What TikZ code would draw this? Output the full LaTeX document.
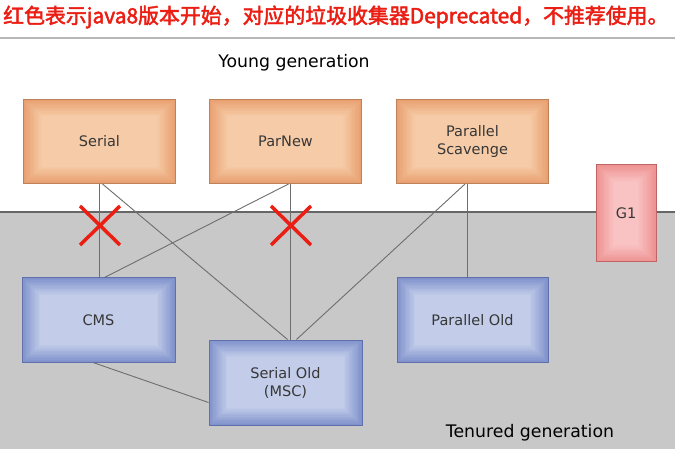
\documentclass[tikz,border=0pt]{standalone}
\usepackage{fontspec}
\setmainfont{DejaVu Sans}
\newfontfamily\cjk{Noto Sans CJK SC}[AutoFakeBold=2.2]
\usetikzlibrary{calc}
\definecolor{orE}{RGB}{232,160,112}
\definecolor{orC}{RGB}{246,204,168}
\definecolor{orB}{RGB}{190,130,90}
\definecolor{blE}{RGB}{128,146,204}
\definecolor{blC}{RGB}{196,206,234}
\definecolor{blB}{RGB}{96,112,170}
\definecolor{pkE}{RGB}{238,146,146}
\definecolor{pkC}{RGB}{250,196,196}
\definecolor{pkB}{RGB}{190,100,100}
\definecolor{bgGray}{RGB}{200,200,200}
\definecolor{txt}{RGB}{55,55,55}
\definecolor{lnk}{RGB}{110,110,110}
\definecolor{xred}{RGB}{235,30,20}
\tikzset{
  gcbox/.style n args={3}{draw=#3, line width=1pt, fill=#1, text=txt,
    font=\fontsize{14.5}{18}\selectfont, align=center, inner sep=0pt,
    path picture={
      \foreach \i in {1,...,14} {
        \fill[#2!\the\numexpr\i*7\relax!#1]
          ($(path picture bounding box.north west)+(\i*1.3pt,-\i*1.2pt)$) rectangle
          ($(path picture bounding box.south east)+(-\i*1.3pt,\i*1.2pt)$);
      }
    }},
  young/.style={gcbox={orE}{orC}{orB}, minimum width=152pt, minimum height=84pt},
  old/.style={gcbox={blE}{blC}{blB}, minimum width=153pt, minimum height=84pt},
  gone/.style={gcbox={pkE}{pkC}{pkB}, minimum width=60pt, minimum height=97pt},
  link/.style={draw=lnk, line width=0.9pt},
  cross/.style={draw=xred, line width=3.5pt},
  gen/.style={text=black, font=\fontsize{17.3}{19}\selectfont}
}
\begin{document}
\begin{tikzpicture}[x=1pt,y=-1pt]
\useasboundingbox (0,0) rectangle (675,449);
\fill[white] (0,0) rectangle (675,449);
% title
\node[anchor=west, text=xred, inner sep=0pt, font=\cjk\bfseries\fontsize{20.9}{24}\selectfont] (title) at (3,17)
  {红色表示java8版本开始，对应的垃圾收集器Deprecated，不推荐使用。};
\draw[draw=black!28, line width=1.5pt] (0,38) coordinate (tl) -- (675,38) coordinate (tr);
% tenured region
\fill[bgGray] (0,212) rectangle (675,449);
\draw[draw=black!60, line width=1.5pt] (0,212) coordinate (gl) -- (675,212) coordinate (gr);
\node[gen] (yg) at (294,63) {Young generation};
\node[gen] (tg) at (530,433) {Tenured generation};
% collectors
\node[young] (serial) at (99.5,141.5) {Serial};
\node[young] (parnew) at (285.5,141.5) {ParNew};
\node[young] (parsc) at (472.5,141.5) {Parallel\\Scavenge};
\node[gone] (g1) at (626,213.5) {G1};
\node[old] (cms) at (98.5,320) {CMS};
\node[old, minimum height=85pt] (serold) at (285.5,382.5) {Serial Old\\(MSC)};
\node[old, minimum width=151pt] (parold) at (472.5,320) {Parallel Old};
% connectors
\draw[link] (serial.south) -- (serial.south |- cms.north);
\draw[link] ([xshift=3pt]serial.south) -- ([xshift=2pt]serold.north);
\draw[link] ([xshift=4.5pt]parnew.south) -- ([xshift=4.5pt]serold.north);
\draw[link] ([xshift=3pt]parnew.south) -- ([xshift=6pt]cms.north);
\draw[link] ([xshift=-5.5pt]parsc.south) -- ([xshift=-5.5pt]parsc.south |- parold.north);
\draw[link] ([xshift=-7.5pt]parsc.south) -- ([xshift=11pt]serold.north);
\draw[link] ([xshift=-5.5pt]cms.south) -- ([yshift=-20pt]serold.west);
% deprecated marks
\draw[cross] (80,206) coordinate (a1) -- (120,245) coordinate (a2);
\draw[cross] (80,245) coordinate (a3) -- (120,206) coordinate (a4);
\draw[cross] (271,206) coordinate (b1) -- (311,245) coordinate (b2);
\draw[cross] (271,245) coordinate (b3) -- (311,206) coordinate (b4);
\end{tikzpicture}
\end{document}
